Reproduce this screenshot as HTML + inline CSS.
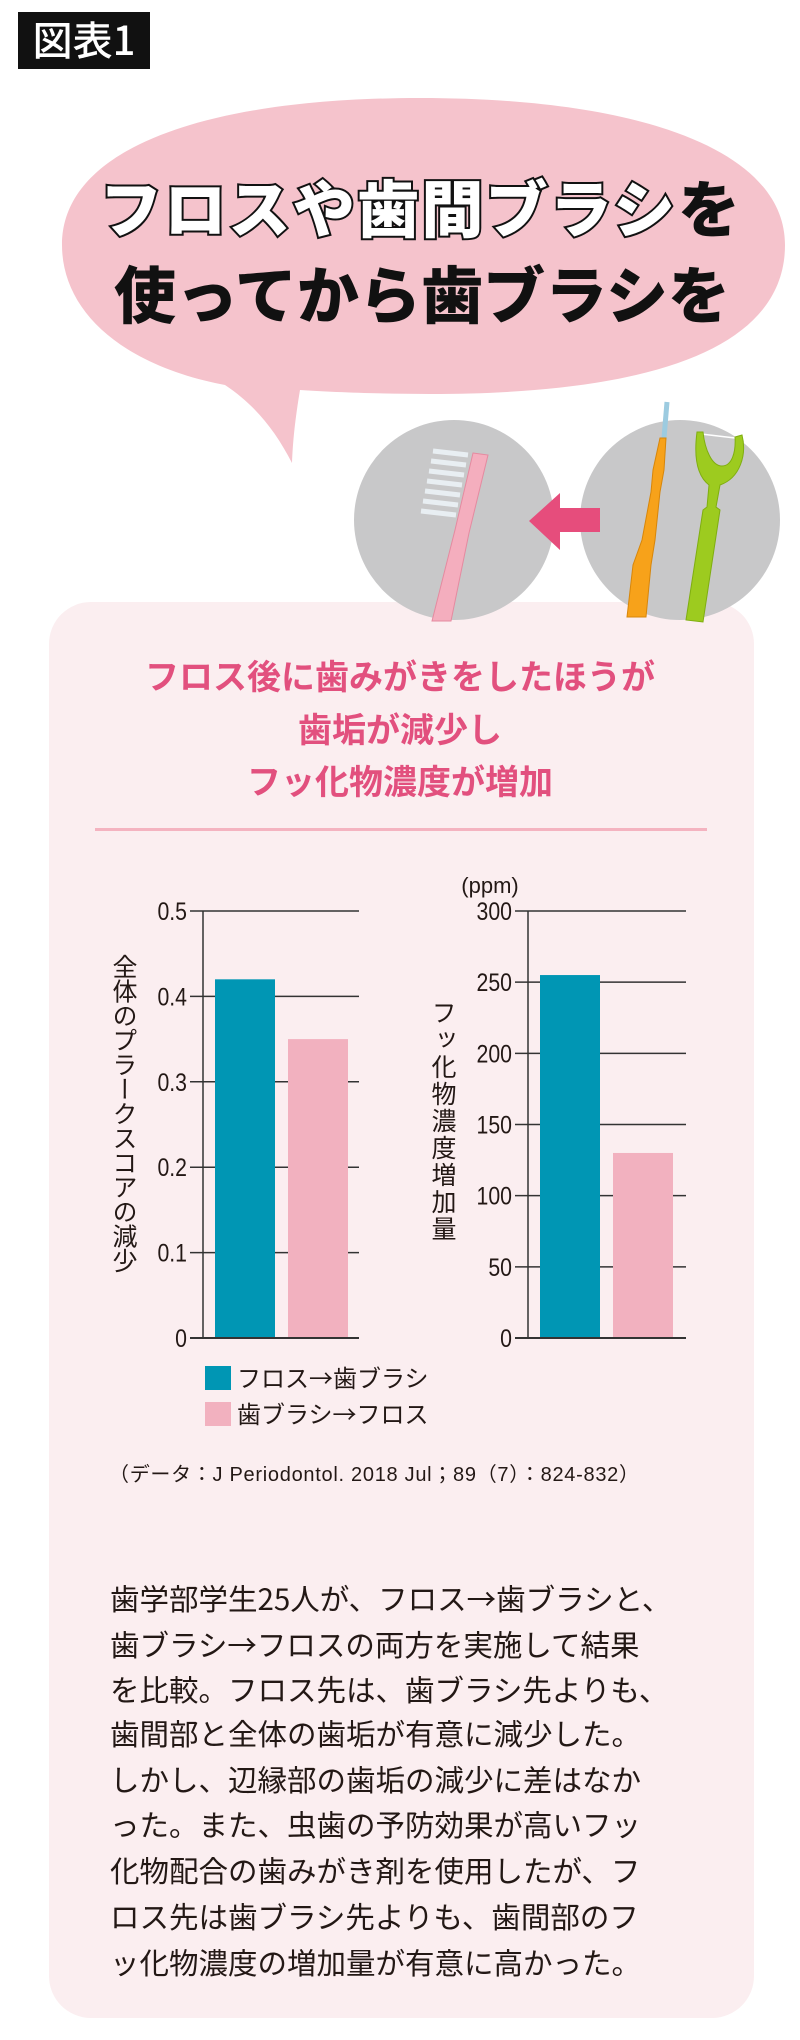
<!DOCTYPE html>
<html lang="ja"><head><meta charset="utf-8">
<style>
html,body{margin:0;padding:0;background:#fff;}
body{width:800px;height:2040px;position:relative;overflow:hidden;font-family:"Liberation Sans","Noto Sans CJK JP",sans-serif;}
.abs{position:absolute;}
.body-line{position:absolute;left:110px;font-size:29.5px;color:#231815;white-space:nowrap;line-height:1;font-family:"Noto Sans CJK JP",sans-serif;}
</style></head><body>
<svg width="800" height="2040" viewBox="0 0 800 2040" class="abs" style="left:0;top:0">
  <rect x="18" y="12" width="132" height="57" fill="#111"/>
  <text x="84" y="55" text-anchor="middle" fill="#fff" font-size="40" font-family="Noto Sans CJK JP,sans-serif" font-weight="500">図表1</text>

  <path d="M420,98 C640,98 785,150 785,245 C785,345 660,394 430,394 C380,394 330,392 300,390 C295,420 293,440 292,463 C275,430 255,405 225,385 C120,365 62,310 62,245 C62,150 200,98 420,98 Z" fill="#f5c3cc"/>
  <g font-family="Noto Sans CJK JP,sans-serif" font-weight="900" font-size="62">
    <text x="100" y="232" fill="#fff" stroke="#111" stroke-width="4" paint-order="stroke" textLength="575">フロスや歯間ブラシ</text>
    <text x="678" y="232" fill="#111">を</text>
    <text x="114" y="318" fill="#111" textLength="616">使ってから歯ブラシを</text>
  </g>

  <rect x="49" y="602" width="705" height="1416" rx="42" fill="#fbeef0"/>

  <circle cx="454" cy="520" r="100" fill="#c8c8c9"/>
  <circle cx="680" cy="520" r="100" fill="#c8c8c9"/>
  <g>
    <g stroke="#e8eef2" stroke-width="5">
      <line x1="433" y1="451" x2="468" y2="455"/><line x1="431" y1="461" x2="466" y2="465"/>
      <line x1="429" y1="471" x2="464" y2="475"/><line x1="427" y1="481" x2="462" y2="485"/>
      <line x1="425" y1="491" x2="460" y2="495"/><line x1="423" y1="501" x2="458" y2="505"/>
      <line x1="421" y1="511" x2="456" y2="515"/>
    </g>
    <path d="M473,453 L488,455 L469,533 L451,621 L432,621 L455,530 Z" fill="#f4aebe" stroke="#e58aa0" stroke-width="1"/>
  </g>
  <path d="M600,508 L560,508 L560,493 L529,521 L560,550 L560,532 L600,532 Z" fill="#e64d7c"/>
  <g>
    <line x1="664" y1="438" x2="667" y2="402" stroke="#9ccbe0" stroke-width="5"/>
    <path d="M660,438 L666,438 L664,470 L660,492 L655,540 L651,565 L646,617 L627,617 L633,565 L642,540 L651,492 L653,470 Z" fill="#f7a21a" stroke="#d7860a" stroke-width="1"/>
  </g>
  <g>
    <line x1="701" y1="434" x2="735" y2="438" stroke="#fff" stroke-width="1.5"/>
    <path d="M697,432 L703,432 C705,450 712,466 722,466 C732,466 736,452 735,437 L742,435 C747,455 740,478 720,485 L716,507 L720,510 L703,622 L686,620 L703,510 L707,507 L709,485 C696,475 694,455 697,432 Z" fill="#9dcb1f" stroke="#7fae10" stroke-width="1"/>
  </g>

  <g font-family="Noto Sans CJK JP,sans-serif" font-weight="700" font-size="34" fill="#e2507e" text-anchor="middle">
    <text x="400" y="689">フロス後に歯みがきをしたほうが</text>
    <text x="400" y="742">歯垢が減少し</text>
    <text x="400" y="794">フッ化物濃度が増加</text>
  </g>
  <rect x="95" y="828" width="612" height="3" fill="#f4b3c0"/>

  <g id="charts"></g>

  <rect x="205" y="1366" width="26" height="24" fill="#0096b4"/>
  <text x="237" y="1387" font-size="24" fill="#231815" font-family="Noto Sans CJK JP,sans-serif">フロス→歯ブラシ</text>
  <rect x="205" y="1402" width="26" height="24" fill="#f2b1bf"/>
  <text x="237" y="1423" font-size="24" fill="#231815" font-family="Noto Sans CJK JP,sans-serif">歯ブラシ→フロス</text>

  <text x="109" y="1481" font-size="20" fill="#231815" textLength="530" font-family="Liberation Sans,Noto Sans CJK JP,sans-serif">（データ：J Periodontol. 2018 Jul；89（7）：824-832）</text>
</svg>

<div class="body-line" style="top:1584px">歯学部学生25人が、フロス→歯ブラシと、</div>
<div class="body-line" style="top:1630px">歯ブラシ→フロスの両方を実施して結果</div>
<div class="body-line" style="top:1675px">を比較。フロス先は、歯ブラシ先よりも、</div>
<div class="body-line" style="top:1719px">歯間部と全体の歯垢が有意に減少した。</div>
<div class="body-line" style="top:1765px">しかし、辺縁部の歯垢の減少に差はなか</div>
<div class="body-line" style="top:1810px">った。また、虫歯の予防効果が高いフッ</div>
<div class="body-line" style="top:1856px">化物配合の歯みがき剤を使用したが、フ</div>
<div class="body-line" style="top:1902px">ロス先は歯ブラシ先よりも、歯間部のフ</div>
<div class="body-line" style="top:1948px">ッ化物濃度の増加量が有意に高かった。</div>

<script>
const categories = ["フロス→歯ブラシ", "歯ブラシ→フロス"];
const plaqueValues = [0.42, 0.35];
const fluorideValues = [255, 130];
const plaqueTicks = ["0", "0.1", "0.2", "0.3", "0.4", "0.5"];
const fluorideTicks = ["0", "50", "100", "150", "200", "250", "300"];
const barColors = ["#0096b4", "#f2b1bf"];

const NS = "http://www.w3.org/2000/svg";
const g = document.getElementById("charts");
function mk(tag, attrs) {
  const e = document.createElementNS(NS, tag);
  for (const k in attrs) e.setAttribute(k, attrs[k]);
  return e;
}
function drawChart(cfg) {
  const y0 = 1338, y1 = 911;
  const yScale = v => y0 - (v - cfg.min) / (cfg.max - cfg.min) * (y0 - y1);
  cfg.ticks.forEach(t => {
    const y = yScale(parseFloat(t));
    const line = mk("line", {x1: cfg.axisX - 13, x2: cfg.right, y1: y, y2: y, stroke: "#333", "stroke-width": 1.5});
    
    
    g.appendChild(line);
    const tx = mk("text", {x: cfg.axisX - 16, y: y + 9, "text-anchor": "end", "font-size": 25, fill: "#231815", "font-family": "Liberation Sans,sans-serif"});
    tx.setAttribute("transform", `translate(${cfg.axisX-16},0) scale(0.85,1) translate(${-(cfg.axisX-16)},0)`);
    tx.textContent = t;
    
    
    g.appendChild(tx);
  });
  const ax = mk("line", {x1: cfg.axisX, x2: cfg.axisX, y1: y1, y2: y0, stroke: "#333", "stroke-width": 1.5});
  
  
  g.appendChild(ax);
  cfg.values.forEach((v, i) => {
    const x = cfg.axisX + 12 + i * 73;
    const r = mk("rect", {x: x, y: yScale(v), width: 60, height: y0 - yScale(v), fill: barColors[i]});
    
    
    g.appendChild(r);
  });
  const base = mk("line", {x1: cfg.axisX - 13, x2: cfg.right, y1: y0, y2: y0, stroke: "#333", "stroke-width": 2});
  
  
  g.appendChild(base);
}
drawChart({id: "plaque", axisX: 203, right: 359, min: 0, max: 0.5, ticks: plaqueTicks, values: plaqueValues});
drawChart({id: "fluoride", axisX: 528, right: 686, min: 0, max: 300, ticks: fluorideTicks, values: fluorideValues});

function vtitle(text, x, yStart, step, name) {
  const t = mk("text", {x: x, y: yStart, "font-size": 25, fill: "#231815", "font-family": "Noto Sans CJK JP,sans-serif", "writing-mode": "tb", style: "writing-mode:vertical-rl;letter-spacing:" + step + "px"});
  t.textContent = text;
  
  
  g.appendChild(t);
}
vtitle("全体のプラークスコアの減少", 125, 954, -0.5, "y-axis-title-plaque");
vtitle("フッ化物濃度増加量", 444, 1000, 2, "y-axis-title-fluoride");
const unit = mk("text", {x: 490, y: 893, "text-anchor": "middle", "font-size": 22, fill: "#231815", "font-family": "Liberation Sans,sans-serif"});
unit.textContent = "(ppm)";


g.appendChild(unit);
</script>
</body></html>
